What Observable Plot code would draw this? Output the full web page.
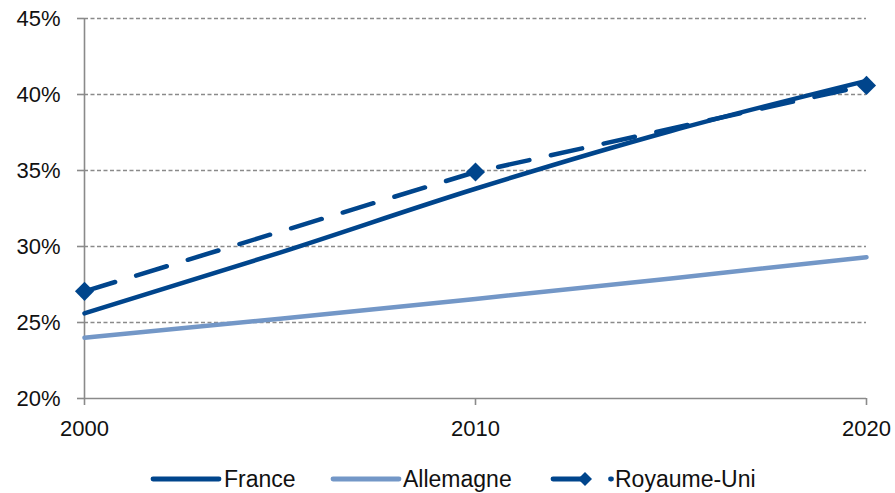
<!DOCTYPE html>
<html><head><meta charset="utf-8">
<script src="https://cdn.jsdelivr.net/npm/d3@7"></script>
<script src="https://cdn.jsdelivr.net/npm/@observablehq/plot@0.6"></script>
<style>
body{margin:0;background:#fff;font-family:"Liberation Sans",Arial,Helvetica,sans-serif;}
#wrap{position:relative;width:895px;height:493px;}
#legend{display:block;}
</style></head>
<body><div id="wrap"><div id="chart"></div><svg id="legend" width="895" height="48"></svg></div>
<script>
const years = [2000, 2005, 2010, 2015, 2020];
const france = [25.6, 29.6, 33.8, 37.6, 40.9];
const allemagne = [24.0, 25.25, 26.55, 27.9, 29.3];
const ruYears = [2000, 2010, 2020];
const royaumeUni = [27.05, 34.9, 40.6];
const yTicks = [20, 25, 30, 35, 40, 45];
const xTicks = [2000, 2010, 2020];
const seriesNames = ["France", "Allemagne", "Royaume-Uni"];

const fr = years.map((x, i) => ({x, y: france[i]}));
const de = years.map((x, i) => ({x, y: allemagne[i]}));
const uk = ruYears.map((x, i) => ({x, y: royaumeUni[i]}));

const dark = "#00458c", light = "#7397c7";
const FONT = '"Liberation Sans", Arial, Helvetica, sans-serif';

const chart = Plot.plot({
  width: 895,
  height: 445,
  marginLeft: 84,
  marginRight: 29,
  marginTop: 18,
  marginBottom: 47,
  style: {fontFamily: FONT, fontSize: "22px", color: "#111", background: "#fff"},
  x: {domain: [2000, 2020]},
  y: {domain: [20, 45]},
  marks: [
    Plot.ruleY(yTicks.filter(d => d > 20), {stroke: "#8a8a8a", strokeWidth: 1.3, strokeDasharray: "4,2.5", strokeOpacity: 1}),
    Plot.ruleY([20], {stroke: "#8a8a8a", strokeWidth: 1.6, strokeOpacity: 1}),
    Plot.ruleX([2000], {stroke: "#8a8a8a", strokeWidth: 1.6, strokeOpacity: 1}),
    Plot.axisY({ticks: yTicks, tickSize: 7, tickPadding: 17, fontSize: 22, tickFormat: d => d + "%", stroke: "#8a8a8a", strokeWidth: 1.6, label: null}),
    Plot.axisX({ticks: xTicks, tickSize: 7, tickPadding: 15, fontSize: 22, tickFormat: d => String(d), stroke: "#8a8a8a", strokeWidth: 1.6, label: null}),
    Plot.line(de, {x: "x", y: "y", stroke: light, strokeWidth: 4.5, curve: "monotone-x"}),
    Plot.line(fr, {x: "x", y: "y", stroke: dark, strokeWidth: 4.5, curve: "monotone-x"}),
    Plot.line(uk, {x: "x", y: "y", stroke: dark, strokeWidth: 4.5, strokeDasharray: "32,22", strokeLinecap: "round"}),
    Plot.dot(uk, {x: "x", y: "y", symbol: "diamond2", r: 8.6, fill: dark, stroke: "none"})
  ]
});
document.getElementById("chart").append(chart);

// legend (below the plot)
const lg = d3.select("#legend");
const items = [
  {name: seriesNames[0], color: dark, x0: 153, x1: 219, tx: 224, marker: false},
  {name: seriesNames[1], color: light, x0: 333, x1: 399, tx: 403, marker: false},
  {name: seriesNames[2], color: dark, x0: 553, x1: 585, tx: 615, marker: true}
];
const ly = 34;
for (const it of items) {
  lg.append("line").attr("x1", it.x0).attr("x2", it.x1).attr("y1", ly).attr("y2", ly)
    .attr("stroke", it.color).attr("stroke-width", 4.8).attr("stroke-linecap", "round");
  if (it.marker) {
    lg.append("path").attr("d", `M${it.x1},${ly-7} L${it.x1+7},${ly} L${it.x1},${ly+7} L${it.x1-7},${ly} Z`).attr("fill", it.color);
    lg.append("line").attr("x1", it.tx - 4.5).attr("x2", it.tx - 3.5).attr("y1", ly).attr("y2", ly)
      .attr("stroke", it.color).attr("stroke-width", 4.8).attr("stroke-linecap", "round");
  }
  lg.append("text").attr("x", it.tx).attr("y", ly + 8).attr("font-family", FONT).attr("font-size", 23)
    .attr("fill", "#111").text(it.name);
}
</script>
</body></html>
